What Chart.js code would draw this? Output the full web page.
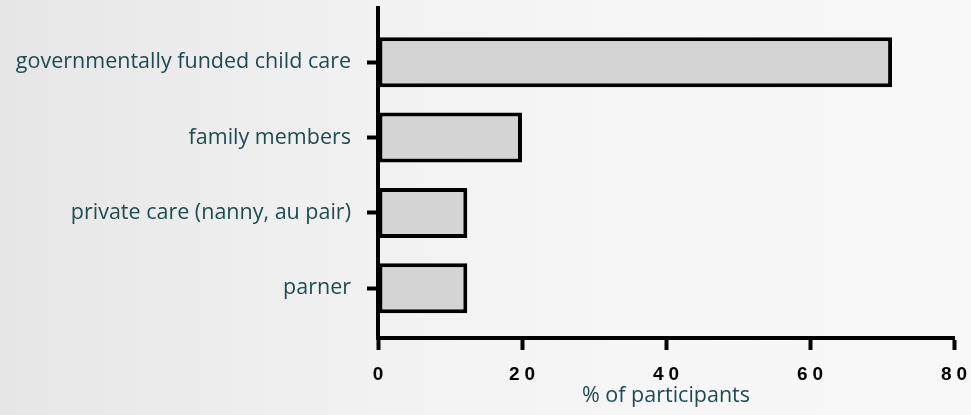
<!DOCTYPE html>
<html>
<head>
<meta charset="utf-8">
<script src="https://cdn.jsdelivr.net/npm/chart.js@4/dist/chart.umd.min.js"></script>
<style>
  html, body { margin: 0; padding: 0; }
  body {
    width: 971px; height: 415px; overflow: hidden;
    background: linear-gradient(to right, #e6e6e6 0%, #f1f1f1 35%, #f7f7f7 70%, #f8f8f8 100%);
  }
  #wrap { position: relative; width: 971px; height: 415px; }
</style>
</head>
<body>
<div id="wrap"><canvas id="careChart" width="971" height="415"></canvas></div>
<script>
// Who looks after the children
const categories = [
  'governmentally funded child care',
  'family members',
  'private care (nanny, au pair)',
  'parner'
];
const percentValues = [71.4, 20, 12.4, 12.4];
const xTicks = [0, 20, 40, 60, 80];

const teal = '#1d4b51';

// rows are placed on a linear index axis so the band padding can be uneven
const points = percentValues.map((v, i) => ({ x: v, y: i }));

const ctx = document.getElementById('careChart');
new Chart(ctx, {
  type: 'bar',
  data: {
    datasets: [{
      data: points,
      backgroundColor: '#d4d4d4',
      borderColor: '#000000',
      borderWidth: 4,
      borderSkipped: false,
      barPercentage: 0.82,
      categoryPercentage: 0.81
    }]
  },
  options: {
    indexAxis: 'y',
    responsive: false,
    animation: false,
    events: [],
    layout: { padding: { top: 8, right: 17, left: 0, bottom: 0 } },
    plugins: {
      legend: { display: false },
      tooltip: { enabled: false }
    },
    scales: {
      y: {
        type: 'linear',
        reverse: true,
        offset: false,
        min: -0.72,
        max: 3.66,
        afterBuildTicks: (scale) => {
          scale.ticks = categories.map((c, i) => ({ value: i }));
        },
        afterFit: (scale) => {
          scale.width = 378;
          scale.paddingTop = 0;
          scale.paddingBottom = 0;
        },
        border: { color: '#000', width: 4 },
        grid: {
          offset: false,
          drawOnChartArea: false,
          drawTicks: true,
          tickLength: 11,
          tickWidth: 4,
          tickColor: '#000'
        },
        ticks: {
          padding: 16,
          color: teal,
          font: { family: '"Open Sans", sans-serif', size: 21.5 },
          callback: (v) => categories[v]
        }
      },
      x: {
        type: 'linear',
        min: 0,
        max: 80,
        afterBuildTicks: (scale) => {
          scale.ticks = xTicks.map(v => ({ value: v }));
        },
        afterFit: (scale) => {
          scale.height = 77;
          scale.paddingLeft = 0;
          scale.paddingRight = 0;
        },
        border: { color: '#000', width: 4 },
        grid: {
          drawOnChartArea: false,
          drawTicks: true,
          tickLength: 12,
          tickWidth: 4,
          tickColor: '#000'
        },
        ticks: {
          padding: 13,
          color: '#000',
          maxRotation: 0,
          font: { family: '"Liberation Sans", Arial, sans-serif', size: 19, weight: 'bold' },
          callback: (v) => String(v).split('').join('\u2005')
        },
        title: {
          display: true,
          text: '% of participants',
          color: teal,
          font: { family: '"Open Sans", sans-serif', size: 21.5 },
          padding: { top: 2, bottom: 6 }
        }
      }
    }
  }
});
</script>
</body>
</html>
